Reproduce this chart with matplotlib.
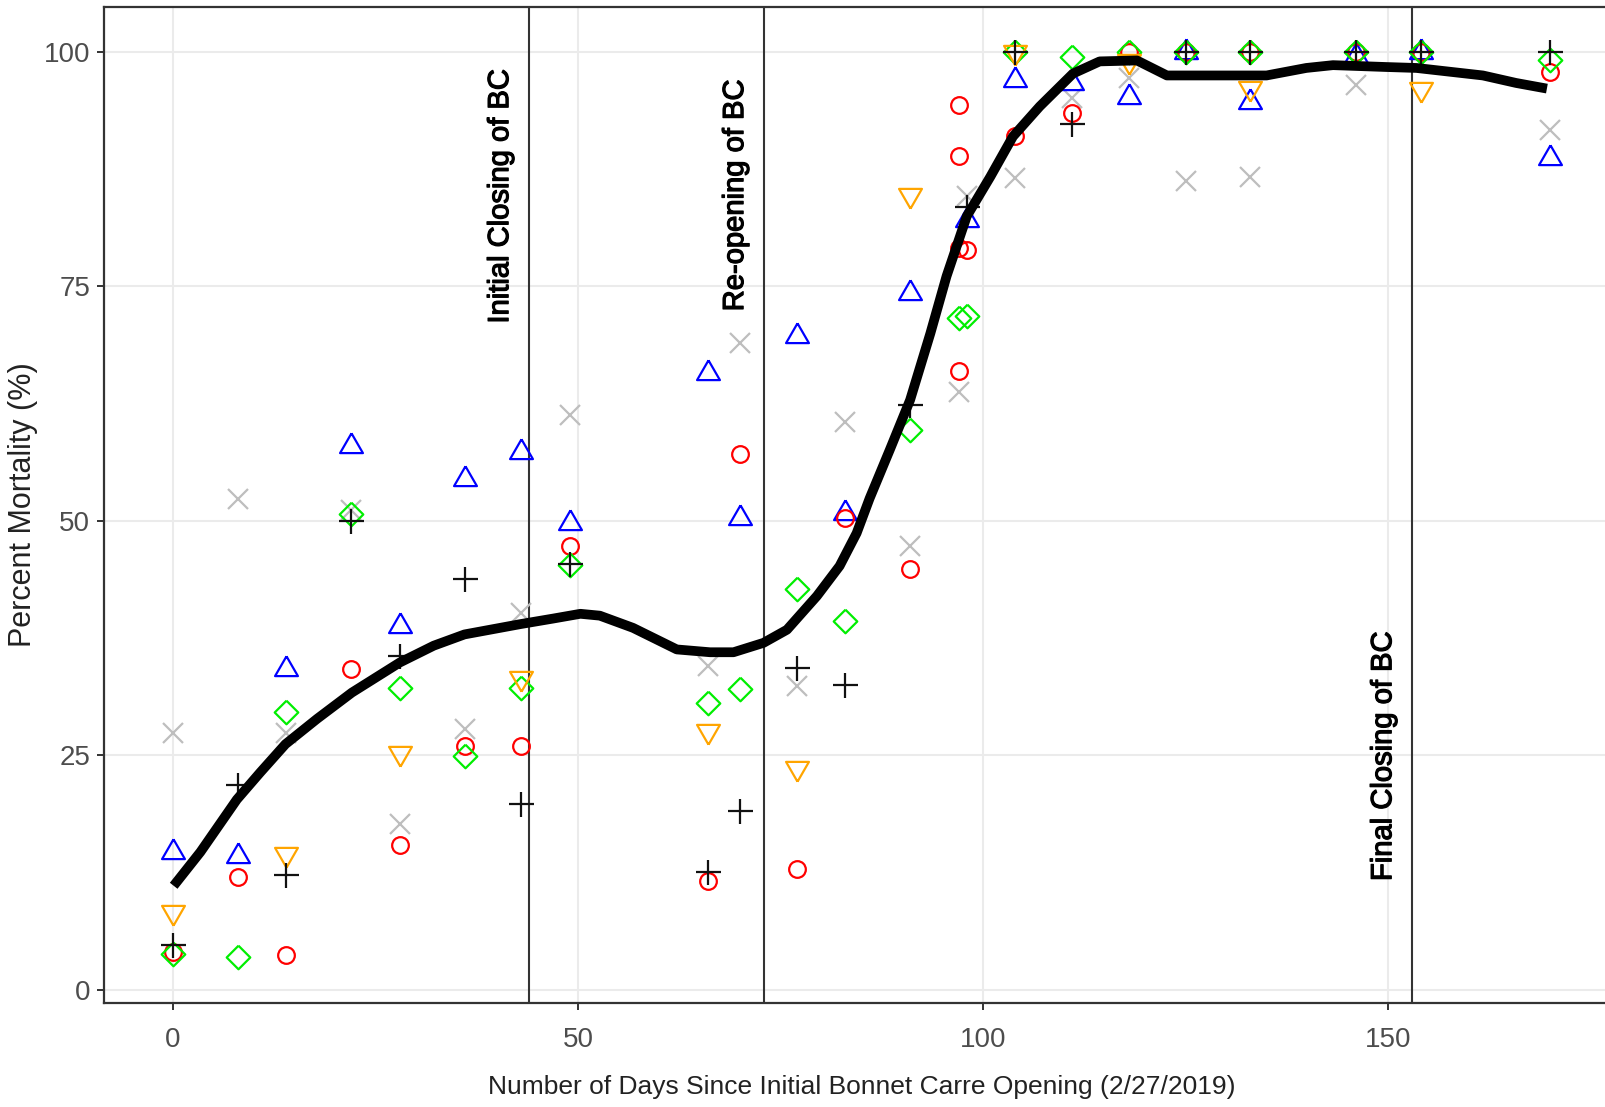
import numpy as np
import matplotlib
matplotlib.use("Agg")
import matplotlib.pyplot as plt
import matplotlib.patheffects as pe

plt.rcParams['font.family'] = ['Liberation Sans', 'DejaVu Sans']

# Scatter series
blue_days = [0, 8, 14, 22, 28, 36, 43, 49, 66, 70, 77, 83, 91, 98, 104, 111, 118, 125, 133, 146, 154, 170]
blue_vals = [14.7, 14.3, 34.2, 58.0, 38.8, 54.5, 57.3, 49.8, 65.8, 50.3, 69.7, 50.9, 74.3, 82.1, 97.0, 96.7, 95.2, 100, 94.7, 99.6, 100, 88.7]

red_days = [0, 8, 14, 22, 28, 36, 43, 49, 66, 70, 77, 83, 91, 97, 97, 97, 97, 98, 104, 111, 118, 125, 133, 146, 154, 170]
red_vals = [4.0, 12.0, 3.7, 34.2, 15.5, 26.0, 26.0, 47.3, 11.6, 57.1, 12.9, 50.3, 44.9, 94.4, 88.9, 79.1, 66.0, 78.9, 91.0, 93.5, 100, 100, 100, 100, 100, 97.9]

green_days = [0, 8, 14, 22, 28, 36, 43, 49, 66, 70, 77, 83, 91, 97, 98, 104, 111, 118, 125, 133, 146, 154, 170]
green_vals = [3.8, 3.5, 29.6, 50.7, 32.2, 24.9, 32.2, 45.3, 30.6, 32.1, 42.7, 39.3, 59.7, 71.6, 71.8, 100, 99.5, 100, 100, 100, 100, 100, 99.1]

orange_days = [0, 14, 28, 43, 66, 77, 91, 104, 118, 133, 154]
orange_vals = [8.3, 14.5, 25.3, 33.3, 27.6, 23.7, 84.8, 100, 99.0, 96.2, 96.1]

black_days = [0, 8, 14, 22, 28, 36, 43, 49, 66, 70, 77, 83, 91, 98, 104, 111, 125, 133, 146, 154, 170]
black_vals = [4.8, 21.8, 12.2, 50.0, 35.6, 43.8, 19.8, 45.4, 12.6, 19.1, 34.3, 32.5, 62.4, 83.5, 100, 92.3, 100, 100, 100, 100, 100]

gray_days = [0, 8, 14, 22, 28, 36, 43, 49, 66, 70, 77, 83, 91, 97, 98, 104, 111, 118, 125, 133, 146, 170]
gray_vals = [27.4, 52.3, 27.4, 51.2, 17.7, 27.8, 40.2, 61.3, 34.5, 69.0, 32.4, 60.5, 47.3, 63.8, 84.6, 86.6, 95.1, 97.2, 86.2, 86.7, 96.5, 91.7]

# smooth trend line
trend_days = [0.1, 3.4, 7.9, 10.8, 13.9, 17.8, 22.1, 28.0, 32.2, 36.0, 42.9, 47.0, 50.3, 52.7,
              56.8, 62.2, 66.3, 69.2, 72.9, 75.8, 79.5, 82.3, 84.4, 86.0, 88.5, 91.0, 93.5,
              95.5, 98.0, 100.9, 103.7, 107.0, 111.1, 114.4, 119.0, 122.7, 126.8, 135.0,
              139.9, 143.2, 149.8, 153.5, 157.6, 161.7, 165.8, 169.6]
trend_vals = [11.1, 14.7, 20.3, 23.2, 26.2, 28.9, 31.7, 34.9, 36.7, 37.9, 39.0, 39.6, 40.1, 39.9,
              38.6, 36.3, 36.0, 36.0, 37.0, 38.4, 42.0, 45.2, 48.7, 52.4, 57.6, 62.9, 70.0,
              76.1, 82.5, 86.7, 91.0, 94.2, 97.7, 99.0, 99.1, 97.5, 97.5, 97.5,
              98.3, 98.6, 98.4, 98.3, 97.9, 97.5, 96.7, 96.1]

event_days = [44, 73, 153]
event_labels = ['Initial Closing of BC', 'Re-opening of BC', 'Final Closing of BC']
event_label_y = [84.6, 84.7, 24.9]

# R style open triangles (centred on the centroid)
tri_up = [(0, 1.555), (1.347, -0.778), (-1.347, -0.778), (0, 1.555)]
tri_down = [(0, -1.555), (1.347, 0.778), (-1.347, 0.778), (0, -1.555)]
diamond = [(0, 1), (1, 0), (0, -1), (-1, 0), (0, 1)]

fig = plt.figure(figsize=(16.05, 11.07), dpi=100)
ax = fig.add_axes([104 / 1605, (1107 - 1003) / 1107, (1619 - 104) / 1605, (1003 - 7) / 1107])

mew = 1.6
ax.plot(gray_days, gray_vals, linestyle='none', marker='x', ms=15, mew=mew, color='#BEBEBE', zorder=3)
ax.plot(blue_days, blue_vals, linestyle='none', marker=tri_up, ms=19, mew=mew,
        mfc='none', mec='#0000FF', zorder=3)
ax.plot(red_days, red_vals, linestyle='none', marker='o', ms=12, mew=mew,
        mfc='none', mec='#FF0000', zorder=3)
ax.plot(green_days, green_vals, linestyle='none', marker=diamond, ms=17, mew=mew,
        mfc='none', mec='#00EE00', zorder=3)
ax.plot(orange_days, orange_vals, linestyle='none', marker=tri_down, ms=19, mew=mew,
        mfc='none', mec='#FFA500', zorder=3)
ax.plot(black_days, black_vals, linestyle='none', marker='+', ms=18, mew=mew, color='#111111', zorder=3)

ax.plot(trend_days, trend_vals, color='black', lw=7, solid_joinstyle='round',
        solid_capstyle='butt', zorder=4)

for d, lab, ly in zip(event_days, event_labels, event_label_y):
    ax.axvline(d, color='#333333', lw=1.5, zorder=2)
    t = ax.text(d - 3.6, ly, lab, rotation=90, ha='center', va='center', fontsize=21,
                color='black', zorder=5)
    t.set_path_effects([pe.withStroke(linewidth=0.9, foreground='black')])

ax.set_xlim(-8.5, 178.5)
ax.set_ylim(-1.4, 104.8)
ax.set_xticks([0, 50, 100, 150])
ax.set_yticks([0, 25, 50, 75, 100])
ax.grid(True, color='#EBEBEB', lw=1.5, zorder=0)
ax.set_axisbelow(True)

for side in ['left', 'top', 'bottom', 'right']:
    ax.spines[side].set_color('#333333')
    ax.spines[side].set_linewidth(1.6)

ax.tick_params(axis='both', length=5, width=1.4, color='#333333', labelcolor='#4D4D4D',
               labelsize=20)
ax.tick_params(axis='x', pad=12)
ax.tick_params(axis='y', pad=5)

ax.set_xlabel('Number of Days Since Initial Bonnet Carre Opening (2/27/2019)', fontsize=19,
              color='#222222', labelpad=16)
ax.set_ylabel('Percent Mortality (%)', fontsize=22, color='#222222', labelpad=4)

fig.savefig('out.png', dpi=100)
